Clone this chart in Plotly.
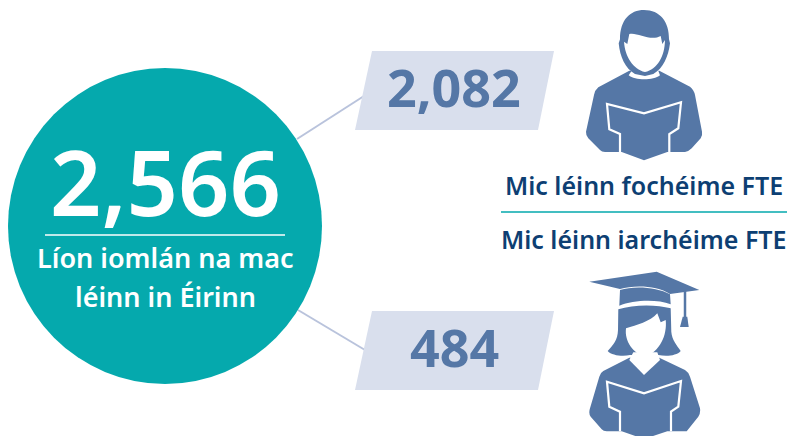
import re
import plotly.graph_objects as go

# values
total_students = 2566
undergrad_students = 2082
postgrad_students = 484
total_label = ["Líon iomlán na mac", "léinn in Éirinn"]
undergrad_label = "Mic léinn fochéime FTE"
postgrad_label = "Mic léinn iarchéime FTE"

TEAL = "#05a9ad"
BLUE = "#5577a6"
PALE = "#d9dfed"
LINK = "#b9c3dc"
NAVY = "#0d3f73"
FONT = "Noto Sans"


def icon_path(path, dx, dy):
    nums = iter(range(100000))

    def fix(m):
        off = dx if next(nums) % 2 == 0 else dy
        return f"{float(m.group()) / 3 + off:.1f}"

    return re.sub(r"\d+(\.\d+)?", fix, path)


def solid(path, color):
    return dict(type="path", path=path, fillcolor=color, line=dict(width=0), layer="above")


def stroke(path, color, width):
    return dict(type="path", path=path, line=dict(color=color, width=width), layer="above")


def seg(x0, y0, x1, y1, color, width):
    return dict(type="line", x0=x0, y0=y0, x1=x1, y1=y1, line=dict(color=color, width=width), layer="above")


def male_icon(dx, dy):
    p = lambda s: icon_path(s, dx, dy)
    return [
        # body and book
        solid(p("M178 212 L85 262 Q75 270 72 285 L48 395 Q47 405 55 415 L90 450 Q95 456 105 456 L155 456 L222 481 L292 456 L345 456 Q355 455 365 445 L392 415 Q398 405 396 395 L375 285 Q372 270 360 260 L268 212 Z"), BLUE),
        stroke(p("M150 456 L150 402 L118 388 L111 312 L222 340 L333 307 L325 385 L298 402 L298 456"), "white", 2.2),
        solid(p("M176 226 C195 242 250 242 270 226 L262 205 L190 205 Z"), "white"),
        # head
        solid(p("M150 118 C150 60 180 30 222 30 C270 30 298 65 297 118 L300 130 C295 170 280 205 250 222 L225 228 L195 222 C165 205 150 170 146 130 Z"), BLUE),
        solid(p("M162 125 L172 132 L178 102 C200 95 240 125 272 108 L277 132 L285 120 C284 170 262 208 225 216 C190 208 165 170 162 125 Z"), "white"),
    ]


def female_icon(dx, dy):
    p = lambda s: icon_path(s, dx, dy)
    return [
        # hair
        solid(p("M145 133 C190 118 260 118 302 130 L304 200 C306 225 320 240 332 258 C320 272 290 275 265 270 L180 270 C160 275 125 272 113 258 C130 240 143 225 144 195 Z"), BLUE),
        # mortarboard
        solid(p("M58 50 L260 20 L388 75 L300 87 C260 60 190 60 150 72 Z"), BLUE),
        solid(p("M150 75 C190 62 260 65 300 88 L302 118 C260 102 190 105 148 122 Z"), BLUE),
        stroke(p("M345 78 L345 160"), BLUE, 2.5),
        solid(p("M338 155 L352 155 L356 186 L330 186 Z"), BLUE),
        # body and book
        solid(p("M178 278 L100 318 Q92 322 88 335 L60 430 Q55 445 62 455 L95 493 Q100 499 110 499 L155 499 L222 522 L292 499 L350 499 L385 455 Q392 445 390 430 L360 335 Q356 322 345 315 L268 278 Z"), BLUE),
        stroke(p("M150 499 L150 440 L118 425 L111 350 L222 385 L333 348 L325 425 L303 440 L303 499"), "white", 2.2),
        # neck and face
        solid(p("M178 285 L222 330 L270 285 L262 262 L190 262 Z"), "white"),
        solid(p("M168 190 C200 180 240 170 262 145 L272 172 L287 165 C292 210 270 260 225 275 C190 265 163 230 168 190 Z"), "white"),
    ]


shapes = [
    seg(297, 139, 364, 96, LINK, 2),
    seg(298, 310, 365, 350, LINK, 2),
    dict(type="circle", x0=8, y0=68, x1=322, y1=384, fillcolor=TEAL, line=dict(width=0), layer="above"),
    seg(45, 235, 285, 235, "white", 1.5),
    solid("M372 51 L554 51 L538 130 L355 130 Z", PALE),
    solid("M372 311 L554 311 L538 390 L355 390 Z", PALE),
    seg(501, 212, 787, 212, TEAL, 1.5),
]
shapes += male_icon(570, 0)
shapes += female_icon(570, 265)


def label(text, x, y, size, color, weight=600):
    return dict(text=text, x=x, y=y, xref="x", yref="y", xanchor="center", yanchor="middle",
                showarrow=False, font=dict(family=FONT, size=size, color=color, weight=weight))


annotations = [
    label(f"{total_students:,}", 165, 181, 90, "white"),
    label(total_label[0], 165, 257, 27, "white"),
    label(total_label[1], 165, 296, 27, "white"),
    label(f"{undergrad_students:,}", 454, 86, 52, BLUE, 700),
    label(f"{postgrad_students:,}", 454, 346, 52, BLUE, 700),
    label(undergrad_label, 644, 185, 25, NAVY),
    label(postgrad_label, 644, 239, 25, NAVY),
]

fig = go.Figure()
fig.update_layout(
    width=787, height=436,
    margin=dict(l=0, r=0, t=0, b=0),
    paper_bgcolor="white", plot_bgcolor="white",
    xaxis=dict(range=[0, 787], visible=False, fixedrange=True),
    yaxis=dict(range=[436, 0], visible=False, fixedrange=True),
    shapes=shapes, annotations=annotations, showlegend=False,
)

fig.write_html("out.html", config=dict(displayModeBar=False),
               post_script="document.body.style.margin='0';")
